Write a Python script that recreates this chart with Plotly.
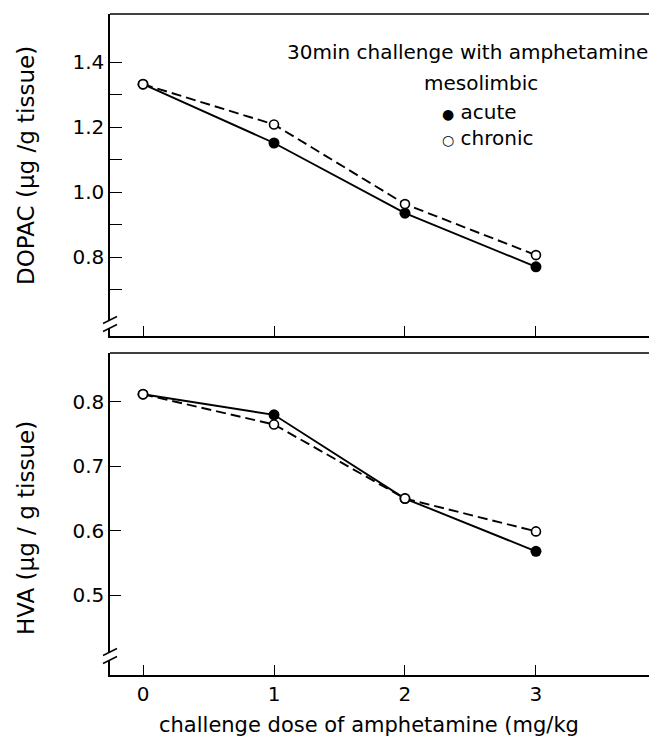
import plotly.graph_objects as go

# ---- data ----
dose = [0, 1, 2, 3]
dopac_acute = [1.332, 1.151, 0.935, 0.770]
dopac_chronic = [1.332, 1.208, 0.963, 0.806]
hva_acute = [0.812, 0.780, 0.650, 0.568]
hva_chronic = [0.812, 0.765, 0.650, 0.599]

x_ticks = [0, 1, 2, 3]
x_ticklabels = ["0", "1", "2", "3"]
dopac_ticks = [0.8, 1.0, 1.2, 1.4]
dopac_ticklabels = ["0.8", "1.0", "1.2", "1.4"]
dopac_minor = [0.7, 0.9, 1.1, 1.3]
hva_ticks = [0.5, 0.6, 0.7, 0.8]
hva_ticklabels = ["0.5", "0.6", "0.7", "0.8"]

FONT = "DejaVu Sans"
OFF = 8  # page body margin
W, H = 657 - OFF, 744 - OFF
ML, MR, MT, MB = 110 - OFF, 0, 14 - OFF, 69
PH = H - MT - MB
PW = W - ML - MR

def py(pix):
    # pix: screen y in reference pixels
    return (H - MB - (pix - OFF)) / PH

def px(pix):
    return (pix - OFF - ML) / PW

fig = go.Figure()

line_solid = dict(color="black", width=1.9)
line_dash = dict(color="black", width=1.9, dash="10px,5px")
m_fill = dict(symbol="circle", size=11, color="black")
m_open = dict(symbol="circle", size=9, color="white", line=dict(color="black", width=1.6))

# top panel
fig.add_trace(go.Scatter(x=dose, y=dopac_acute, mode="lines+markers", line=line_solid,
                         marker=m_fill, xaxis="x", yaxis="y", showlegend=False))
fig.add_trace(go.Scatter(x=dose, y=dopac_chronic, mode="lines+markers", line=line_dash,
                         marker=m_open, xaxis="x", yaxis="y", showlegend=False))
# bottom panel
fig.add_trace(go.Scatter(x=dose, y=hva_acute, mode="lines+markers", line=line_solid,
                         marker=m_fill, xaxis="x2", yaxis="y2", showlegend=False))
fig.add_trace(go.Scatter(x=dose, y=hva_chronic, mode="lines+markers", line=line_dash,
                         marker=m_open, xaxis="x2", yaxis="y2", showlegend=False))

xr = [-0.252, 3.924]
top_dom = [py(336), 1.0]
bot_dom = [0.0, py(353)]

common_x = dict(range=xr, showgrid=False, zeroline=False, showline=True, linecolor="black",
                linewidth=1.5, ticks="inside", ticklen=10, tickwidth=1.3, tickcolor="black",
                tickvals=x_ticks)
fig.update_layout(
    xaxis=dict(**common_x, domain=[0, 1], anchor="y", showticklabels=False),
    xaxis2=dict(**common_x, domain=[0, 1], anchor="y2", ticktext=x_ticklabels,
                tickfont=dict(family=FONT, size=20, color="black")),
    yaxis=dict(domain=top_dom, range=[0.557, 1.548], anchor="x", showgrid=False, zeroline=False,
               showline=True, linecolor="black", linewidth=1.5, ticks="inside", ticklen=12,
               tickwidth=1.3, tickcolor="black", tickvals=dopac_ticks, ticktext=dopac_ticklabels,
               tickfont=dict(family=FONT, size=20, color="black"),
               minor=dict(tickvals=dopac_minor, ticks="inside", ticklen=12, tickwidth=1.3,
                          tickcolor="black", showgrid=False)),
    yaxis2=dict(domain=bot_dom, range=[0.376, 0.876], anchor="x2", showgrid=False, zeroline=False,
                showline=True, linecolor="black", linewidth=1.5, ticks="inside", ticklen=11,
                tickwidth=1.3, tickcolor="black", tickvals=hva_ticks, ticktext=hva_ticklabels,
                tickfont=dict(family=FONT, size=20, color="black")),
    width=W, height=H,
    margin=dict(l=ML, r=MR, t=MT, b=MB, autoexpand=False),
    paper_bgcolor="white", plot_bgcolor="white",
    showlegend=False,
)

# top border lines of each panel
for yref in ["y domain", "y2 domain"]:
    fig.add_shape(type="line", xref="x domain", yref=yref, x0=0, x1=1, y0=1, y1=1,
                  line=dict(color="black", width=1.5))

# axis break marks (two slanted strokes with a gap in the axis)
def add_break(y_upper, y_lower):
    fig.add_shape(type="line", xref="paper", yref="paper", x0=0, x1=0,
                  y0=py(y_lower), y1=py(y_upper), line=dict(color="white", width=5))
    for yc in (y_upper, y_lower):
        fig.add_shape(type="line", xref="paper", yref="paper",
                      x0=px(103), x1=px(117), y0=py(yc + 3.5), y1=py(yc - 3.5),
                      line=dict(color="black", width=1.4))

add_break(320, 328)
add_break(652, 660)

# axis titles
fig.add_annotation(text="DOPAC (µg /g tissue)", xref="paper", yref="paper", x=px(26),
                   y=py(166), textangle=-90, showarrow=False, xanchor="center", yanchor="middle",
                   font=dict(family=FONT, size=23, color="black"))
fig.add_annotation(text="HVA (µg / g tissue)", xref="paper", yref="paper", x=px(26),
                   y=py(528), textangle=-90, showarrow=False, xanchor="center", yanchor="middle",
                   font=dict(family=FONT, size=23, color="black"))
fig.add_annotation(text="challenge dose of amphetamine (mg/kg", xref="paper", yref="paper",
                   x=px(369), y=py(725), showarrow=False, xanchor="center", yanchor="middle",
                   font=dict(family=FONT, size=21, color="black"))

# legend text
fig.add_annotation(text="30min challenge with amphetamine", xref="paper", yref="paper",
                   x=px(467), y=py(52), showarrow=False, xanchor="center", yanchor="middle",
                   font=dict(family=FONT, size=20, color="black"))
fig.add_annotation(text="mesolimbic", xref="paper", yref="paper",
                   x=px(481), y=py(83), showarrow=False, xanchor="center", yanchor="middle",
                   font=dict(family=FONT, size=20, color="black"))
fig.add_annotation(text="<span style='font-size:14px'>●</span> acute", xref="paper", yref="paper",
                   x=px(440), y=py(112), showarrow=False, xanchor="left", yanchor="middle",
                   font=dict(family=FONT, size=20, color="black"))
fig.add_annotation(text="<span style='font-size:14px'>○</span> chronic", xref="paper", yref="paper",
                   x=px(440), y=py(138), showarrow=False, xanchor="left", yanchor="middle",
                   font=dict(family=FONT, size=20, color="black"))

fig.write_html("out.html")
